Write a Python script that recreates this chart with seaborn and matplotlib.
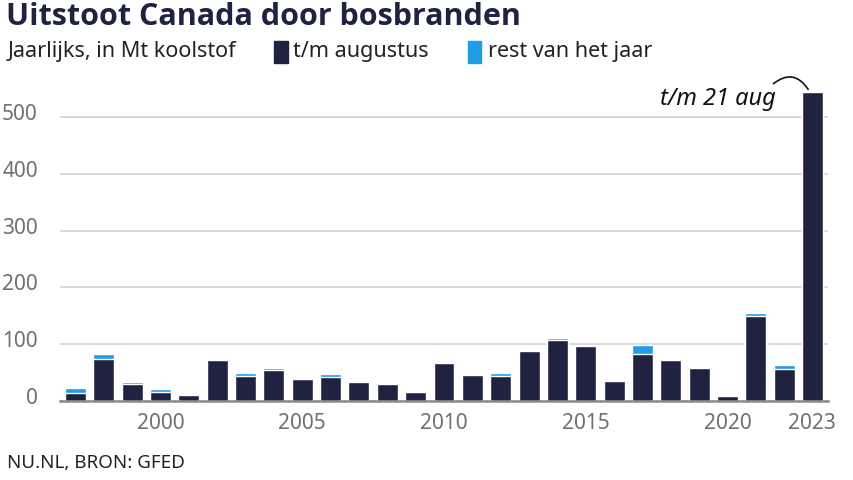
import seaborn as sns
import pandas as pd
import numpy as np
from matplotlib import pyplot as plt
import matplotlib.transforms as mtrans

years = list(range(1997, 2024))
tm_augustus = [13, 74, 29, 16, 10, 72, 44, 55, 39, 42, 33, 29, 16, 66, 45, 43, 87, 107, 96, 34,
               83, 72, 58, 9, 149, 56, 544]
totaal = [22, 83, 33, 20, 12, 73, 49, 57, 39, 47, 34, 30, 16, 66, 47, 48, 90, 110, 96, 34,
          98, 73, 60, 9, 155, 63, 544]
y_ticks = [0, 100, 200, 300, 400, 500]
x_ticks = [2000, 2005, 2010, 2015, 2020, 2023]

dark = '#1f2341'
blue = '#1d9de6'
grey = '#707070'

df = pd.DataFrame({'jaar': years, 'aug': tm_augustus, 'totaal': totaal})

sns.set_style('white')
plt.rcParams['font.family'] = ['Noto Sans', 'DejaVu Sans']

fig = plt.figure(figsize=(8.54, 4.8), dpi=100)
ax = fig.add_axes([60 / 854, 1 - 400.7 / 480, 768 / 854, 317.5 / 480])

sns.barplot(data=df, x='jaar', y='totaal', color=blue, saturation=1, width=0.74,
            native_scale=True, errorbar=None, ax=ax)
sns.barplot(data=df, x='jaar', y='aug', color=dark, saturation=1, width=0.74,
            native_scale=True, errorbar=None, ax=ax)

ax.set_xlim(1996.45, 2023.55)
ax.set_ylim(0, 560)
ax.set_xlabel('')
ax.set_ylabel('')
for s in ['top', 'right', 'left']:
    ax.spines[s].set_visible(False)
ax.spines['bottom'].set_color('#8a8a8a')
ax.spines['bottom'].set_linewidth(1.8)
ax.spines['bottom'].set_zorder(5)

ax.set_yticks(y_ticks)
ax.set_yticklabels([str(v) for v in y_ticks])
ax.yaxis.grid(True, color='#d6d6d6', linewidth=1.3)
ax.set_axisbelow(True)
ax.tick_params(axis='y', length=0, labelsize=15, labelcolor=grey, pad=16)
ax.set_xticks(x_ticks)
ax.set_xticklabels([str(v) for v in x_ticks])
ax.tick_params(axis='x', length=6, width=1.5, color='#8a8a8a', labelsize=15,
               labelcolor=grey, pad=3)

# y labels sit slightly above the gridlines
for lab in ax.get_yticklabels():
    lab.set_transform(lab.get_transform() + mtrans.ScaledTranslation(0, 5 / 100, fig.dpi_scale_trans))

ax.text(2021.7, 532, 't/m 21 aug', ha='right', va='center', style='italic',
        fontsize=17, color='#111111')
ax.annotate('', xy=(2022.9, 545), xytext=(2021.55, 556),
            arrowprops=dict(arrowstyle='-', color='#111111', lw=1.2,
                            connectionstyle='arc3,rad=-0.6'),
            annotation_clip=False)

fig.text(6 / 854, 1 - 2 / 480, 'Uitstoot Canada door bosbranden', ha='left', va='top',
         fontsize=22, fontweight='bold', family=['Open Sans', 'DejaVu Sans'], color=dark)
fig.text(8 / 854, 1 - 52 / 480, 'Jaarlijks, in Mt koolstof', ha='left', va='center',
         fontsize=15.5, color='#222222')
fig.patches.append(plt.Rectangle((274 / 854, 1 - 63 / 480), 14 / 854, 22 / 480,
                                 transform=fig.transFigure, color=dark))
fig.text(293 / 854, 1 - 52 / 480, 't/m augustus', ha='left', va='center',
         fontsize=15.5, color='#222222')
fig.patches.append(plt.Rectangle((468 / 854, 1 - 63 / 480), 13 / 854, 22 / 480,
                                 transform=fig.transFigure, color=blue))
fig.text(488 / 854, 1 - 52 / 480, 'rest van het jaar', ha='left', va='center',
         fontsize=15.5, color='#222222')
fig.text(7 / 854, 1 - 463 / 480, 'NU.NL, BRON: GFED', ha='left', va='center',
         fontsize=13.5, color='#222222')

fig.savefig('out.png', dpi=100)
